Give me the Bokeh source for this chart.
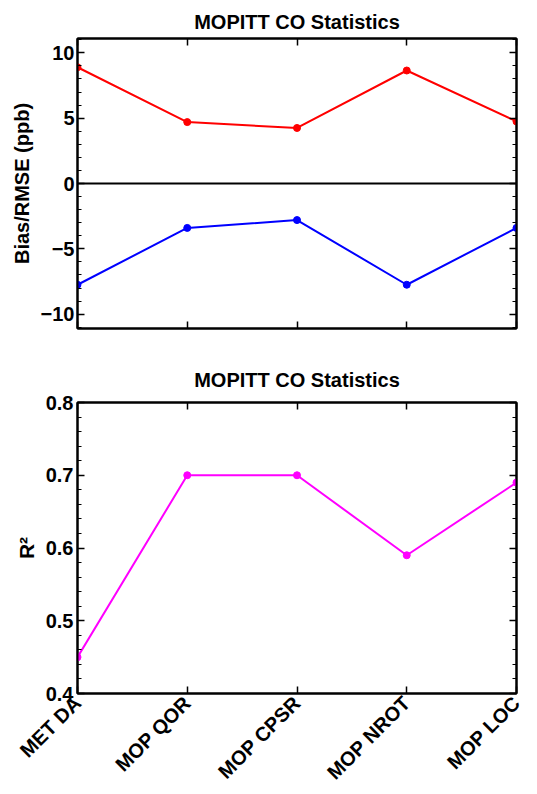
import math
from bokeh.plotting import figure
from bokeh.layouts import column
from bokeh.models import (Range1d, FixedTicker, LinearAxis, Span, ColumnDataSource,
                          CustomJSTickFormatter)
from bokeh.embed import file_html
from bokeh.resources import INLINE

categories = ["MET DA", "MOP QOR", "MOP CPSR", "MOP NROT", "MOP LOC"]
rmse = [8.9, 4.7, 4.25, 8.65, 4.75]
bias = [-7.75, -3.4, -2.8, -7.75, -3.4]
r2 = [0.45, 0.70, 0.70, 0.59, 0.69]
bias_ticks = [-10, -5, 0, 5, 10]
r2_ticks = [0.4, 0.5, 0.6, 0.7, 0.8]
title_text = "MOPITT CO Statistics"

xs = list(range(1, len(categories) + 1))
FONT = "Liberation Sans"


def style_axis(ax, labels=True, size="20px"):
    ax.major_tick_in = 7
    ax.major_tick_out = 0
    ax.minor_tick_in = 4
    ax.minor_tick_out = 0
    ax.major_tick_line_color = "black"
    ax.major_tick_line_width = 1.5
    ax.minor_tick_line_color = "black"
    ax.minor_tick_line_width = 1.2
    ax.axis_line_color = "black"
    ax.axis_line_width = 2
    ax.major_label_text_font = FONT
    ax.major_label_text_font_style = "bold"
    ax.major_label_text_color = "black"
    ax.major_label_standoff = 4
    ax.axis_label_text_font = FONT
    ax.axis_label_text_font_style = "bold"
    ax.axis_label_text_font_size = "20px"
    ax.axis_label_text_color = "black"
    ax.axis_label_standoff = 5
    if labels:
        ax.major_label_text_font_size = size
    else:
        ax.formatter = CustomJSTickFormatter(code="return ''")
        ax.major_label_text_font_size = "1px"
        ax.major_label_standoff = 0


def make_fig(height, left, right, top, bottom, yr, yticks, yminor, title_standoff):
    p = figure(width=537, height=height, output_backend="svg", toolbar_location=None,
               x_range=Range1d(xs[0], xs[-1]), y_range=Range1d(*yr),
               min_border_left=left, min_border_right=right,
               min_border_top=top, min_border_bottom=bottom)
    p.title.text = title_text
    p.title.align = "center"
    p.title.text_font = FONT
    p.title.text_font_style = "bold"
    p.title.text_font_size = "20px"
    p.title.text_color = "black"
    p.title.standoff = title_standoff
    p.xgrid.visible = False
    p.ygrid.visible = False
    p.outline_line_color = "black"
    p.outline_line_width = 2
    p.outline_line_alpha = 1
    xt = FixedTicker(ticks=xs, minor_ticks=[])
    yt = FixedTicker(ticks=yticks, minor_ticks=yminor)
    bottom_ax = p.below[0]
    left_ax = p.left[0]
    bottom_ax.ticker = xt
    left_ax.ticker = yt
    top_ax = LinearAxis(ticker=xt)
    right_ax = LinearAxis(ticker=yt)
    style_axis(top_ax, labels=False)
    style_axis(right_ax, labels=False)
    p.add_layout(top_ax, "above")
    p.add_layout(right_ax, "right")
    return p, bottom_ax, left_ax


# ---- top panel ----
p1, b1, l1 = make_fig(345, 77, 21, 38, 17, (-11.1, 11.1), bias_ticks,
                      [float(v) for v in range(-11, 12)], 12)
style_axis(b1, labels=False)
style_axis(l1, labels=True)
l1.major_label_standoff = 3
l1.axis_label = "Bias/RMSE (ppb)"
l1.major_label_overrides = {-10: "\u221210", -5: "\u22125"}
p1.add_layout(Span(location=0, dimension="width", line_color="black", line_width=2))

src1 = ColumnDataSource(dict(x=xs, rmse=rmse, bias=bias))
p1.line("x", "rmse", source=src1, line_color="#ff0000", line_width=2)
p1.scatter("x", "rmse", source=src1, size=7, fill_color="#ff0000", line_color="#ff0000")
p1.line("x", "bias", source=src1, line_color="#0000ff", line_width=2)
p1.scatter("x", "bias", source=src1, size=7, fill_color="#0000ff", line_color="#0000ff")

# ---- bottom panel ----
p2, b2, l2 = make_fig(449, 76, 21, 57, 101, (0.4, 0.8), r2_ticks,
                      [round(0.4 + 0.02 * i, 2) for i in range(21)], 23)
style_axis(b2, labels=True, size="20px")
style_axis(l2, labels=True)
b2.major_label_overrides = {x: c for x, c in zip(xs, categories)}
b2.major_label_orientation = math.pi / 4
b2.major_label_standoff = 6
l2.axis_label = "R\u00b2"
l2.axis_label_text_font_size = "21px"

src2 = ColumnDataSource(dict(x=xs, r2=r2))
p2.line("x", "r2", source=src2, line_color="#ff00ff", line_width=2)
p2.scatter("x", "r2", source=src2, size=7, fill_color="#ff00ff", line_color="#ff00ff")

layout = column(p1, p2, spacing=0)
open("out.html", "w").write(file_html(layout, INLINE))
